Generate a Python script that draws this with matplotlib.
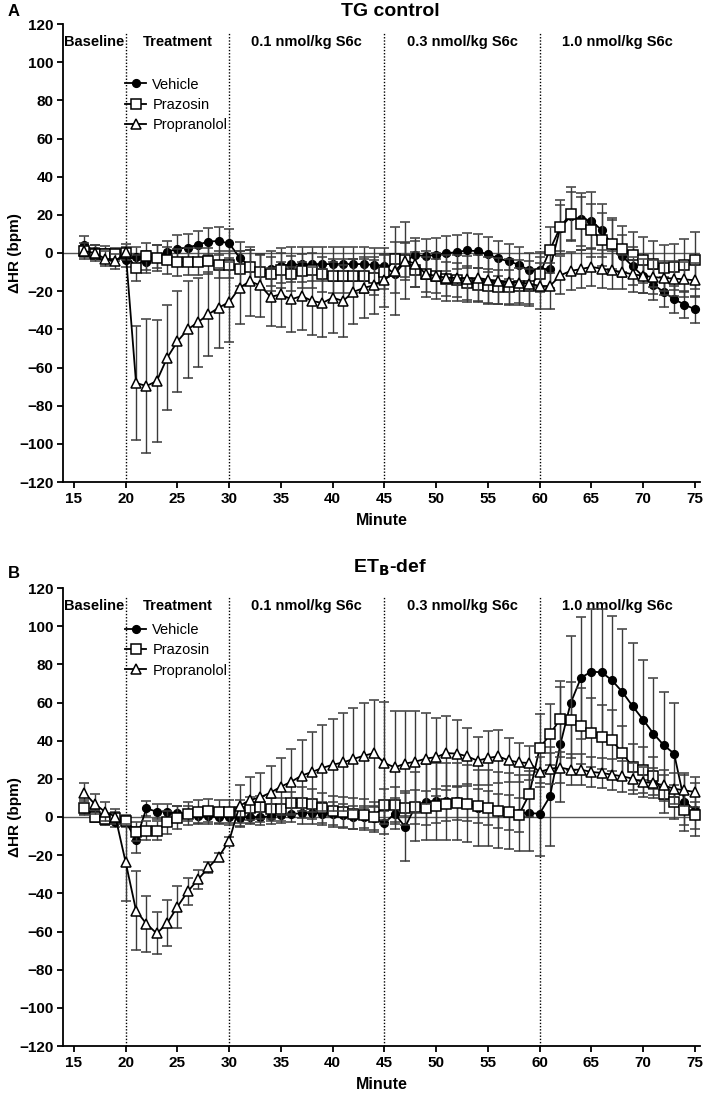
import matplotlib
matplotlib.use("Agg")
import matplotlib.pyplot as plt
import numpy as np

plt.rcParams['font.family'] = ['Liberation Sans', 'DejaVu Sans']

minutes = list(range(16, 76))

# ---------------- Panel A: TG control ----------------
veh_a = [4.4, 1, 0.7, -1.2, -3.5, -2, -4.7, -2, 0.5, 2.3, 2.8, 4.4, 6, 6.3, 5,
         -2.4, -7.2, -9.6, -8.2, -6.6, -6, -6, -5.8, -5.8, -5.8, -5.8, -5.8, -5.8, -6.3, -6.6,
         -11.2, -4.4, -1, -1.7, -0.9, -0.2, 0.5, 1.4, 0.9, -0.7, -2.8, -4.4, -6.1, -9.1, -8.7,
         -8.2, 13.3, 19.2, 17.6, 17, 11.9, 4.4, -1.7, -7, -12.2, -16.6, -20.4, -24.3, -27, -29.5]
veh_a_err = [4.5, 3, 3, 3, 4, 5, 6, 6, 6, 7, 7, 7, 7, 7.5, 7.5,
             8, 9, 9, 9, 9, 9, 9, 9, 9, 9, 9, 9, 9, 9, 9,
             10, 10, 9, 9, 9, 9, 9, 9, 9, 9, 9, 9, 9, 9, 9,
             10, 12, 13, 14, 15, 14, 13, 11, 10, 9, 8, 8, 7, 7, 7]

pra_a = [0.9, -0.3, -0.7, -0.3, 0, -7.9, -1.7, -2.6, -3.8, -4.9, -4.5, -4.5, -4.2, -6.1, -6.1,
         -8.2, -7.3, -10.1, -11, -9.1, -10.8, -9.4, -9.1, -11.2, -12, -12, -12, -12.2, -12.9, -10,
         -3.3, -3.8, -8.7, -11.2, -12, -13.6, -14.3, -15.7, -16.6, -17.5, -17.8, -17.8, -17.1, -17.5, -11.2,
         1.7, 13.6, 20.6, 15.4, 11.9, 7, 4.5, 1.9, -0.9, -3.5, -5.9, -7.7, -7.3, -6.5, -3.8]
pra_a_err = [3, 3, 3, 3, 3, 7, 7, 7, 7, 7, 7, 7, 7, 7, 7,
             9, 9, 9, 9, 9, 9, 9, 9, 9, 9, 9, 9, 9, 9, 9,
             9, 9, 9, 9, 9, 9, 9, 9, 9, 9, 9, 9, 9, 9, 9,
             12, 14, 14, 14, 14, 14, 14, 12, 12, 12, 12, 12, 12, 14, 15]

pro_a = [1, 0, -3, -4.4, 0.5, -68.1, -69.7, -67.1, -55, -46.3, -40, -36.2, -32.1, -28.6, -25.7,
         -18.2, -14.8, -17, -23, -21.7, -24.3, -22.5, -25.1, -26.2, -23.4, -25.1, -20.4, -18.3, -16.9, -14.3,
         -9.5, -4, -5.6, -11, -12, -13, -13, -13.5, -13, -14, -14.5, -15, -15.5, -16, -17.3,
         -17.3, -11.7, -9.4, -8.4, -7.3, -8.2, -9.1, -10, -11.2, -11.9, -12.6, -13.1, -13.4, -13.8, -14.3]
pro_a_err = [4, 4, 4, 4, 4, 30, 35, 32, 27.5, 26.5, 25.5, 23.3, 22, 21, 21,
             19, 18, 16.5, 15, 17, 17, 18, 18, 18, 18.5, 19, 17, 16, 15, 14,
             23, 20, 12, 12, 12, 12, 12, 12, 12, 12, 12, 12, 12, 12, 12,
             12, 10, 10, 10, 10, 10, 10, 9, 9, 9, 9, 9, 9, 9, 9]

# ---------------- Panel B: ETB-def ----------------
veh_b = [5, 0.5, -1.2, -2.4, -2.4, -12, 4.5, 2.8, 2.8, 1.9, 1.9, 0.5, 0.5, 0.2, -0.2,
         -0.7, 0.2, -0.2, 0.5, 1, 1.4, 2.1, 2.1, 1.7, 1.7, 1, -0.2, 0, -0.7, -3.1,
         1.7, -5.2, 5.6, 7.7, 8.2, 8.2, 8.2, 7, 4.7, 4.7, 3.8, 3, 2.1, 2.1, 1.7,
         10.8, 38, 59.7, 73, 76.2, 75.8, 71.6, 65.5, 58, 51, 43.7, 37.6, 33.2, 7.9, 3.8]
veh_b_err = [4, 3, 3, 3, 3, 7, 4, 4, 4, 4, 4, 4, 4, 4, 4,
             4, 4, 4, 4, 4, 4, 6, 6, 6, 6, 6, 6, 6, 6, 6,
             8, 18, 18, 20, 20, 20, 20, 20, 20, 20, 20, 20, 20, 20, 22,
             26, 30, 35, 32, 33, 33, 33.5, 33, 33, 31.5, 29, 28, 26.5, 15, 14]

pra_b = [4.5, 0.2, -1.2, -0.3, -1.9, -7.7, -7.3, -7.3, -2.8, -0.3, 1.6, 2.8, 3.3, 2.8, 2.8,
         2.8, 4.5, 5, 4, 4, 7.2, 7.5, 6.8, 4.7, 3, 2.4, 1.7, 1.2, 0, 6.5,
         6.5, 4.7, 5.2, 4.7, 5.9, 7, 7.3, 7, 5.9, 4.7, 3.3, 2.4, 1.2, 11.9, 36,
         43.3, 51.5, 51, 47.7, 44.2, 41.9, 40.2, 33.5, 26.2, 24.8, 21.3, 11.9, 7.9, 3.8, 0.9]
pra_b_err = [3, 3, 3, 3, 3, 5, 5, 5, 6, 6, 6, 6, 6, 6, 6,
             6, 6, 6, 6, 6, 6, 8, 8, 8, 8, 8, 8, 8, 8, 8,
             9, 9, 9, 9, 9, 9, 9, 9, 9, 9, 9, 9, 9, 12, 18,
             16, 20, 20, 20, 18, 17, 16, 14, 12, 12, 10, 10, 9, 8, 7]

pro_b = [12.8, 6.8, 2.8, 0.2, -23.8, -49, -56, -61, -55.7, -47, -39, -32.7, -26.4, -20.8, -12.4,
         5.8, 8.9, 10.3, 12.8, 15.9, 18.5, 21.7, 23.6, 25.7, 27.4, 28.6, 30.4, 32.1, 33.5, 28.3,
         26, 28, 29, 30.6, 31.4, 33.5, 33.2, 31.8, 29.5, 30.9, 31.8, 29.7, 28.6, 28.3, 23.6,
         25.3, 25.9, 24.8, 24.8, 23.6, 23.1, 22.2, 21.3, 20.1, 18.3, 17.8, 16.6, 14.8, 14, 13.1]
pro_b_err = [5, 5, 5, 4, 20, 20.7, 14.5, 11, 12, 11, 7, 5, 3, 2, 2,
             11, 12, 13, 14, 15, 17, 18.7, 20.8, 22.5, 24, 25.7, 26.9, 27.5, 27.8, 32,
             29.7, 27.7, 26.7, 24, 20.3, 19.4, 17.6, 14.7, 12.5, 14.3, 13.8, 11.5, 10.4, 9, 8,
             8, 8, 8, 8, 8, 8, 8, 8, 8, 8, 8, 8, 8, 8, 8]

series_names = ['Vehicle', 'Prazosin', 'Propranolol']
phase_edges = [20, 30, 45, 60]
phase_labels = ['Baseline', 'Treatment', '0.1 nmol/kg S6c', '0.3 nmol/kg S6c', '1.0 nmol/kg S6c']
yticks = list(range(-120, 121, 20))
xticks = list(range(15, 76, 5))

W, H = 709, 1095
fig = plt.figure(figsize=(W / 100, H / 100), dpi=100)

XMIN, XMAX = 13.94, 75.5

def make_axes(top_px):
    left = 63 / W
    width = 637 / W
    height = 458 / H
    bottom = 1 - (top_px + 458) / H
    return fig.add_axes([left, bottom, width, height])

styles = [
    dict(marker='o', mfc='black', mec='black', ms=5.5),
    dict(marker='s', mfc='white', mec='black', ms=6.5),
    dict(marker='^', mfc='white', mec='black', ms=6.5),
]

def draw_panel(ax, data, legend_top):
    ax.set_xlim(XMIN, XMAX)
    ax.set_ylim(-120, 120)
    ax.axhline(0, color='#555555', lw=1.0, zorder=1)
    for e in phase_edges:
        ax.plot([e, e], [-120, 116], color='black', lw=1.0, ls=(0, (1, 1.3)), zorder=1)
    bounds = [XMIN] + phase_edges + [XMAX]
    for i, lab in enumerate(phase_labels):
        cx = (bounds[i] + bounds[i + 1]) / 2
        if i == len(phase_labels) - 1:
            cx = 67.5
        ax.text(cx, 110.5, lab, ha='center', va='center', fontsize=10.5, fontweight='bold')
    handles = []
    for k, ((y, err), st) in enumerate(zip(data, styles)):
        eb = ax.errorbar(minutes, y, yerr=err, color='black', lw=1.3, ecolor='#3a3a3a',
                         elinewidth=1.0, capsize=3.8, capthick=1.0, mew=1.1,
                         zorder=3 + k, label=series_names[k], **st)
        handles.append(eb)
    ax.legend(handles=[h.lines[0] for h in handles], labels=series_names,
              loc='upper left', bbox_to_anchor=(0.098, legend_top),
              frameon=False, fontsize=10.5, handlelength=1.4, handletextpad=0.45,
              labelspacing=0.42, borderpad=0, borderaxespad=0)
    ax.spines['top'].set_visible(False)
    ax.spines['right'].set_visible(False)
    ax.spines['left'].set_linewidth(1.3)
    ax.spines['bottom'].set_linewidth(1.3)
    ax.set_xticks(xticks)
    ax.set_yticks(yticks)
    ax.tick_params(axis='both', direction='out', length=4.5, width=1.3, labelsize=11, pad=2.5)
    for t in ax.get_xticklabels() + ax.get_yticklabels():
        t.set_fontweight('bold')
    ax.set_xlabel('Minute', fontsize=11.5, fontweight='bold', labelpad=5)
    ax.set_ylabel('ΔHR (bpm)', fontsize=11, fontweight='bold')
    ax.yaxis.set_label_coords(-0.064, 0.5)

axA = make_axes(24)
draw_panel(axA, [(veh_a, veh_a_err), (pra_a, pra_a_err), (pro_a, pro_a_err)], 0.883)
axB = make_axes(588)
draw_panel(axB, [(veh_b, veh_b_err), (pra_b, pra_b_err), (pro_b, pro_b_err)], 0.923)

fig.text(8 / W, 1 - 11 / H, 'A', fontsize=12, fontweight='bold', ha='left', va='center')
fig.text(390 / W, 1 - 11 / H, 'TG control', fontsize=14, fontweight='bold', ha='center', va='center')
fig.text(8 / W, 1 - 573 / H, 'B', fontsize=12, fontweight='bold', ha='left', va='center')
fig.text(390 / W, 1 - 568 / H, r'ET$_\mathbf{B}$-def', fontsize=14, fontweight='bold',
         ha='center', va='center')

fig.savefig('out.png', dpi=100)
